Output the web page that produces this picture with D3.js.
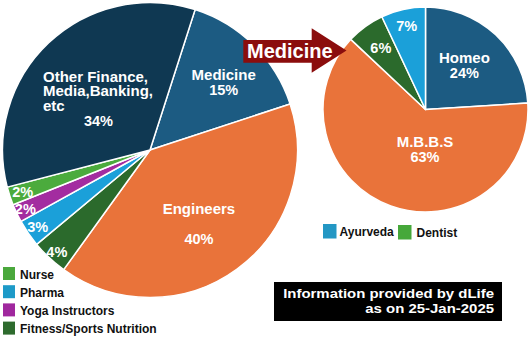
<!DOCTYPE html>
<html>
<head>
<meta charset="utf-8">
<script src="https://cdn.jsdelivr.net/npm/d3@7"></script>
<style>
    html, body { margin: 0; padding: 0; background: #fff; }
    svg { display: block; font-family: Arial, "Liberation Sans", sans-serif; font-weight: bold; }
</style>
</head>
<body>
<div id="chart"></div>
<script>
(function(d3) {
    'use strict';

    // career split (percent)
    var careerNames = ['Medicine', 'Engineers', 'Fitness/Sports Nutrition', 'Pharma', 'Yoga Instructors', 'Nurse', 'Other'];
    var careerShares = [15, 40, 4, 3, 2, 2, 34];

    // medicine breakdown (percent)
    var medicineNames = ['Homeo', 'M.B.B.S', 'Dentist', 'Ayurveda'];
    var medicineShares = [24, 63, 6, 7];

    var careerLegend = ['Nurse', 'Pharma', 'Yoga Instructors', 'Fitness/Sports Nutrition'];
    var medicineLegend = ['Ayurveda', 'Dentist'];

    var sliceColor = {
        'Medicine': '#1c5b82', 'Homeo': '#1c5b82',
        'Engineers': '#e9733a', 'M.B.B.S': '#e9733a',
        'Fitness/Sports Nutrition': '#2b6a2c', 'Dentist': '#2b6a2c',
        'Pharma': '#1ba0d9', 'Ayurveda': '#1ba0d9',
        'Yoga Instructors': '#a32ca0',
        'Nurse': '#4bab3d',
        'Other': '#0f3852'
    };

    var legendColor = {
        'Nurse': '#4aa83c', 'Pharma': '#1d9ac8', 'Yoga Instructors': '#a0289e',
        'Fitness/Sports Nutrition': '#2e6b2e', 'Ayurveda': '#2397c4', 'Dentist': '#46a83a'
    };

    // where each slice label sits: radius along the mid angle plus a nudge.
    // name lines go in one text block (x offset, anchor), the percent follows.
    var labelSpec = {
        'Medicine': { r: 96, dx: 6, dy: 0, name: ['Medicine'], nameY: -2, pctY: 13 },
        'Engineers': { r: 88, dx: -3, dy: 2.5, name: ['Engineers'], nameY: -9.5, pctY: 20.5 },
        'Fitness/Sports Nutrition': { r: 138, dx: 1, dy: 1, pctY: 5 },
        'Pharma': { r: 136, dx: 0, dy: 0, pctY: 5 },
        'Yoga Instructors': { r: 138, dx: 0, dy: 0, pctY: 5 },
        'Nurse': { r: 134, dx: 0, dy: 0, pctY: 5 },
        'Other': { r: 75, dx: 0, dy: 0, name: ['Other Finance,', 'Media,Banking,', 'etc'],
            nameY: -13.5, nameX: -55.5, anchor: 'start', lineStep: 14.3, pctY: 30.5 },
        'Homeo': { r: 59, dx: -1.5, dy: -1.5, name: ['Homeo'], nameY: -2, pctY: 13 },
        'M.B.B.S': { r: 39, dx: 12.7, dy: 2.5, name: ['M.B.B.S'], nameY: -2, pctY: 13 },
        'Dentist': { r: 76, dx: 0, dy: 0, pctY: 5 },
        'Ayurveda': { r: 86, dx: 0, dy: 0, pctY: 5 }
    };

    var svg = d3.select('#chart').append('svg')
        .attr('width', 530)
        .attr('height', 337);

    function drawPie(names, shares, cx, cy, radius, startAngle) {
        var data = names.map(function(n, i) { return { name: n, value: shares[i] }; });

        var pie = d3.pie()
            .sort(null)
            .startAngle(startAngle)
            .endAngle(startAngle + 2 * Math.PI)
            .value(function(d) { return d.value; });

        var arc = d3.arc().innerRadius(0).outerRadius(radius);

        var g = svg.append('g')
            .attr('transform', 'translate(' + cx + ',' + cy + ')');

        var arcs = pie(data);

        g.selectAll('path')
            .data(arcs)
            .enter()
            .append('path')
            .attr('d', arc)
            .attr('fill', function(d) { return sliceColor[d.data.name]; })
            .attr('stroke', '#fff')
            .attr('stroke-width', 1.5)
            .attr('stroke-linejoin', 'round');

        var labels = g.selectAll('g.label')
            .data(arcs)
            .enter()
            .append('g')
            .attr('class', 'label')
            .attr('fill', '#fff')
            .attr('transform', function(d) {
                var spec = labelSpec[d.data.name];
                var c = d3.arc().innerRadius(spec.r).outerRadius(spec.r).centroid(d);
                return 'translate(' + (c[0] + spec.dx) + ',' + (c[1] + spec.dy) + ')';
            });

        labels.each(function(d) {
            var spec = labelSpec[d.data.name];
            var sel = d3.select(this);

            if (spec.name) {
                var t = sel.append('text')
                    .attr('text-anchor', spec.anchor || 'middle')
                    .style('font-size', '15px');
                spec.name.forEach(function(line, i) {
                    t.append('tspan')
                        .attr('x', spec.nameX || 0)
                        .attr('y', spec.nameY + i * (spec.lineStep || 15))
                        .text(line);
                });
            }

            sel.append('text')
                .attr('y', spec.pctY)
                .attr('text-anchor', 'middle')
                .style('font-size', '14.5px')
                .text(d.data.value + '%');
        });
    }

    drawPie(careerNames, careerShares, 150, 150, 147.5, 0.311);
    drawPie(medicineNames, medicineShares, 425.5, 109.5, 102.5, 0);

    // arrow pointing at the medicine breakdown
    var arrow = svg.append('g');
    arrow.append('path')
        .attr('d', 'M243.3,40 L311.7,40 L311.7,28.3 L346.5,50.5 L311.7,72.7 L311.7,62.7 L243.3,62.7 Z')
        .attr('fill', '#8b0d0d');
    arrow.append('text')
        .attr('x', 247)
        .attr('y', 57.5)
        .attr('fill', '#fff')
        .style('font-size', '20px')
        .text('Medicine');

    // career legend, bottom left
    var legendLeft = svg.selectAll('.legend-left')
        .data(careerLegend)
        .enter()
        .append('g')
        .attr('class', 'legend-left')
        .attr('transform', function(d, i) { return 'translate(3,' + (267 + i * 18.2) + ')'; });

    legendLeft.append('rect')
        .attr('width', 12)
        .attr('height', 13)
        .attr('fill', function(d) { return legendColor[d]; });

    legendLeft.append('text')
        .attr('x', 17)
        .attr('y', 11.5)
        .attr('fill', '#111')
        .style('font-size', '12px')
        .text(function(d) { return d; });

    // medicine legend, under the small pie
    var legendRightX = [323, 398];
    var legendRight = svg.selectAll('.legend-right')
        .data(medicineLegend)
        .enter()
        .append('g')
        .attr('class', 'legend-right')
        .attr('transform', function(d, i) { return 'translate(' + legendRightX[i] + ',' + (224 + i) + ')'; });

    legendRight.append('rect')
        .attr('width', 13.5)
        .attr('height', 14.5)
        .attr('fill', function(d) { return legendColor[d]; });

    legendRight.append('text')
        .attr('x', function(d, i) { return i === 0 ? 16.5 : 18.5; })
        .attr('y', 11.5)
        .attr('fill', '#111')
        .style('font-size', '12px')
        .text(function(d) { return d; });

    // source note
    var note = svg.append('g');
    note.append('rect')
        .attr('x', 274)
        .attr('y', 282)
        .attr('width', 228)
        .attr('height', 39)
        .attr('fill', '#000');

    var noteText = note.append('g')
        .attr('transform', 'translate(494,0) scale(1.15,1)');
    noteText.append('text')
        .attr('y', 298.3)
        .attr('text-anchor', 'end')
        .attr('fill', '#fff')
        .style('font-size', '13px')
        .text('Information provided by dLife');
    noteText.append('text')
        .attr('y', 313.3)
        .attr('text-anchor', 'end')
        .attr('fill', '#fff')
        .style('font-size', '13px')
        .text('as on 25-Jan-2025');

})(window.d3);
</script>
</body>
</html>
